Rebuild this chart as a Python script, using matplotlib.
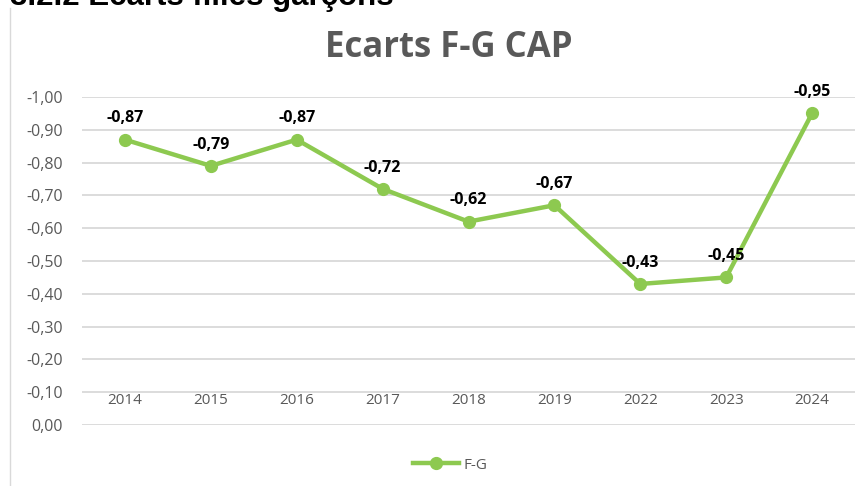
import matplotlib
matplotlib.use("Agg")
import matplotlib.pyplot as plt
from matplotlib.lines import Line2D
from matplotlib.ticker import FuncFormatter

years = ["2014", "2015", "2016", "2017", "2018", "2019", "2022", "2023", "2024"]
values = [-0.87, -0.79, -0.87, -0.72, -0.62, -0.67, -0.43, -0.45, -0.95]
yticks = [0.0, -0.1, -0.2, -0.3, -0.4, -0.5, -0.6, -0.7, -0.8, -0.9, -1.0]

GREEN = "#8DC950"
GRAY = "#595959"
FONT = ["Open Sans", "DejaVu Sans"]

W, H = 858, 486
fig = plt.figure(figsize=(W / 100, H / 100), dpi=100)
ax = fig.add_axes([82 / W, 1 - 425 / H, (855 - 82) / W, (425 - 97) / H])

x = list(range(len(years)))
ax.plot(x, values, color=GREEN, lw=3.2, marker="o", ms=8.5, zorder=3, solid_capstyle="round")
for xi, v in zip(x, values):
    ax.annotate(f"{v:.2f}".replace(".", ","), (xi, v), xytext=(0, 9.5), textcoords="offset points",
                ha="center", va="bottom", fontsize=11.5, fontweight="bold", color="black", family=FONT)

ax.set_xlim(-0.5, len(years) - 0.5)
ax.set_ylim(0, -1.0)
ax.set_yticks(yticks)
ax.yaxis.set_major_formatter(FuncFormatter(lambda v, p: f"{v:.2f}".replace(".", ",").replace("-0,00", "0,00")))
ax.set_xticks(x)
ax.set_xticklabels(years)
ax.tick_params(axis="x", length=0, pad=-23, labelsize=11, labelcolor=GRAY)
ax.tick_params(axis="y", length=0, pad=13.5, labelsize=11.5, labelcolor=GRAY)
for lab in ax.get_xticklabels() + ax.get_yticklabels():
    lab.set_family(FONT)
ax.grid(axis="y", color="#D9D9D9", lw=1.3)
ax.set_axisbelow(True)
for s in ax.spines.values():
    s.set_visible(False)

fig.text(449 / W, 1 - 48 / H, "Ecarts F-G CAP", ha="center", va="center", fontsize=25,
         fontweight="bold", color=GRAY, family=FONT)

fig.text(10 / W, 1 - 5 / H, "3.2.2 Ecarts filles garçons", ha="left", va="baseline", fontsize=22.5,
         fontweight="bold", color="black", family=["Liberation Sans", "DejaVu Sans"])

fig.add_artist(Line2D([10 / W, 10 / W], [0, 1 - 8 / H], color="#D9D9D9", lw=1))

handle = Line2D([], [], color=GREEN, lw=3.2, marker="o", ms=8.5)
fig.legend([handle], ["F-G"], loc="center", bbox_to_anchor=(450 / W, 1 - 465 / H), frameon=False,
           prop={"family": FONT, "size": 11}, labelcolor=GRAY, handlelength=3, handletextpad=0.3)

fig.savefig("out.png", dpi=100)
